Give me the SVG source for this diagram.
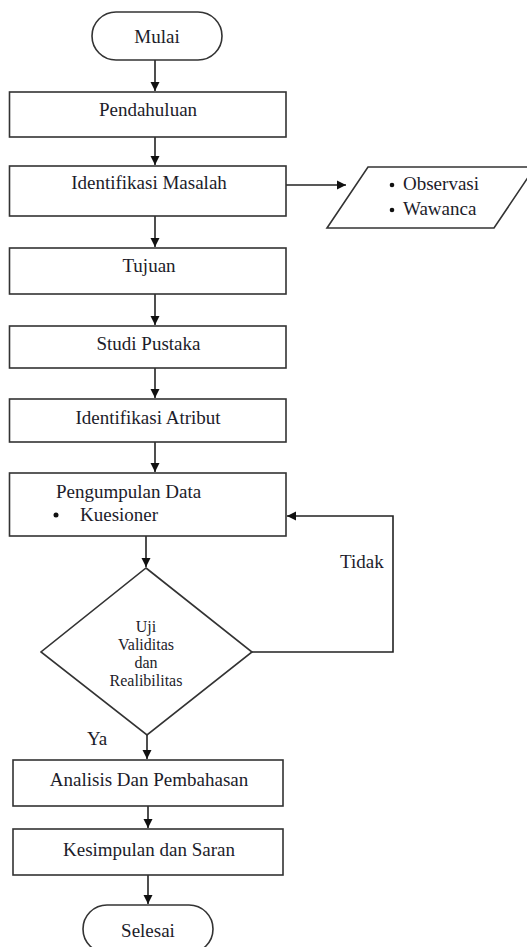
<svg xmlns="http://www.w3.org/2000/svg" width="527" height="947" viewBox="0 0 527 947">
<defs>
<style>
.s{fill:#fff;stroke:#333;stroke-width:1.6}
.t{font-size:19px;fill:#1c1c2a;text-anchor:middle}
.ts{font-size:16px;fill:#1c1c2a;text-anchor:middle}
.l{font-size:19px;fill:#1c1c2a}
.c{fill:none;stroke:#222;stroke-width:1.6}
</style>
<marker id="ah" markerWidth="10" markerHeight="10" refX="9" refY="5" orient="auto" markerUnits="userSpaceOnUse">
<path d="M0,0.5 L9,5 L0,9.5 Z" fill="#111"/>
</marker>
</defs>
<rect width="527" height="947" fill="#fff"/>
<g font-family="Liberation Serif, Times New Roman, serif">
<g id="connectors">
<line class="c" x1="155" y1="60" x2="155" y2="91" marker-end="url(#ah)"/>
<line class="c" x1="155" y1="137" x2="155" y2="165" marker-end="url(#ah)"/>
<line class="c" x1="286" y1="185" x2="346" y2="185" marker-end="url(#ah)"/>
<line class="c" x1="155" y1="216" x2="155" y2="247" marker-end="url(#ah)"/>
<line class="c" x1="155" y1="294" x2="155" y2="325" marker-end="url(#ah)"/>
<line class="c" x1="155" y1="368" x2="155" y2="398" marker-end="url(#ah)"/>
<line class="c" x1="155" y1="442" x2="155" y2="472" marker-end="url(#ah)"/>
<line class="c" x1="146" y1="536" x2="146" y2="567" marker-end="url(#ah)"/>
<polyline class="c" points="252,652 393,652 393,516 287,516" marker-end="url(#ah)"/>
<line class="c" x1="147" y1="735" x2="147" y2="759" marker-end="url(#ah)"/>
<line class="c" x1="148" y1="806" x2="148" y2="828" marker-end="url(#ah)"/>
<line class="c" x1="148" y1="875" x2="148" y2="904" marker-end="url(#ah)"/>
<text class="l" x="340" y="568">Tidak</text>
<text class="l" x="87" y="745">Ya</text>
</g>
<g id="mulai">
<rect class="s" x="92" y="12" width="130" height="48" rx="24" ry="24"/>
<text class="t" x="157" y="43">Mulai</text>
</g>
<g id="pendahuluan">
<rect class="s" x="9.5" y="92" width="276.5" height="45"/>
<text class="t" x="148" y="116">Pendahuluan</text>
</g>
<g id="identifikasi-masalah">
<rect class="s" x="9.5" y="166" width="276.5" height="50"/>
<text class="t" x="149" y="189">Identifikasi Masalah</text>
</g>
<g id="data-input">
<polygon class="s" points="368,167 535,167 494,228 327,228"/>
<circle cx="392" cy="185" r="2.3" fill="#111"/>
<text class="l" x="403" y="190">Observasi</text>
<circle cx="392" cy="210" r="2.3" fill="#111"/>
<text class="l" x="403" y="215">Wawanca</text>
</g>
<g id="tujuan">
<rect class="s" x="9.5" y="248" width="276.5" height="46"/>
<text class="t" x="149" y="272">Tujuan</text>
</g>
<g id="studi-pustaka">
<rect class="s" x="9.5" y="326" width="276.5" height="42"/>
<text class="t" x="148.5" y="350">Studi Pustaka</text>
</g>
<g id="identifikasi-atribut">
<rect class="s" x="9.5" y="399" width="276.5" height="43"/>
<text class="t" x="148" y="424">Identifikasi Atribut</text>
</g>
<g id="pengumpulan-data">
<rect class="s" x="9.5" y="473" width="276.5" height="63"/>
<text class="l" x="56" y="498">Pengumpulan Data</text>
<circle cx="56" cy="515" r="2.5" fill="#111"/>
<text class="l" x="80" y="521">Kuesioner</text>
</g>
<g id="uji">
<polygon class="s" points="146,568 252,652 147,735 41,652"/>
<text class="ts" x="146" y="632">Uji</text>
<text class="ts" x="146" y="650">Validitas</text>
<text class="ts" x="146" y="668">dan</text>
<text class="ts" x="146" y="686">Realibilitas</text>
</g>
<g id="analisis">
<rect class="s" x="13" y="760" width="270" height="46"/>
<text class="t" x="149" y="786">Analisis Dan Pembahasan</text>
</g>
<g id="kesimpulan">
<rect class="s" x="13" y="829" width="270" height="46"/>
<text class="t" x="149" y="856">Kesimpulan dan Saran</text>
</g>
<g id="selesai">
<rect class="s" x="83" y="905" width="130" height="48" rx="24" ry="24"/>
<text class="t" x="148" y="937">Selesai</text>
</g>
</g>
</svg>
